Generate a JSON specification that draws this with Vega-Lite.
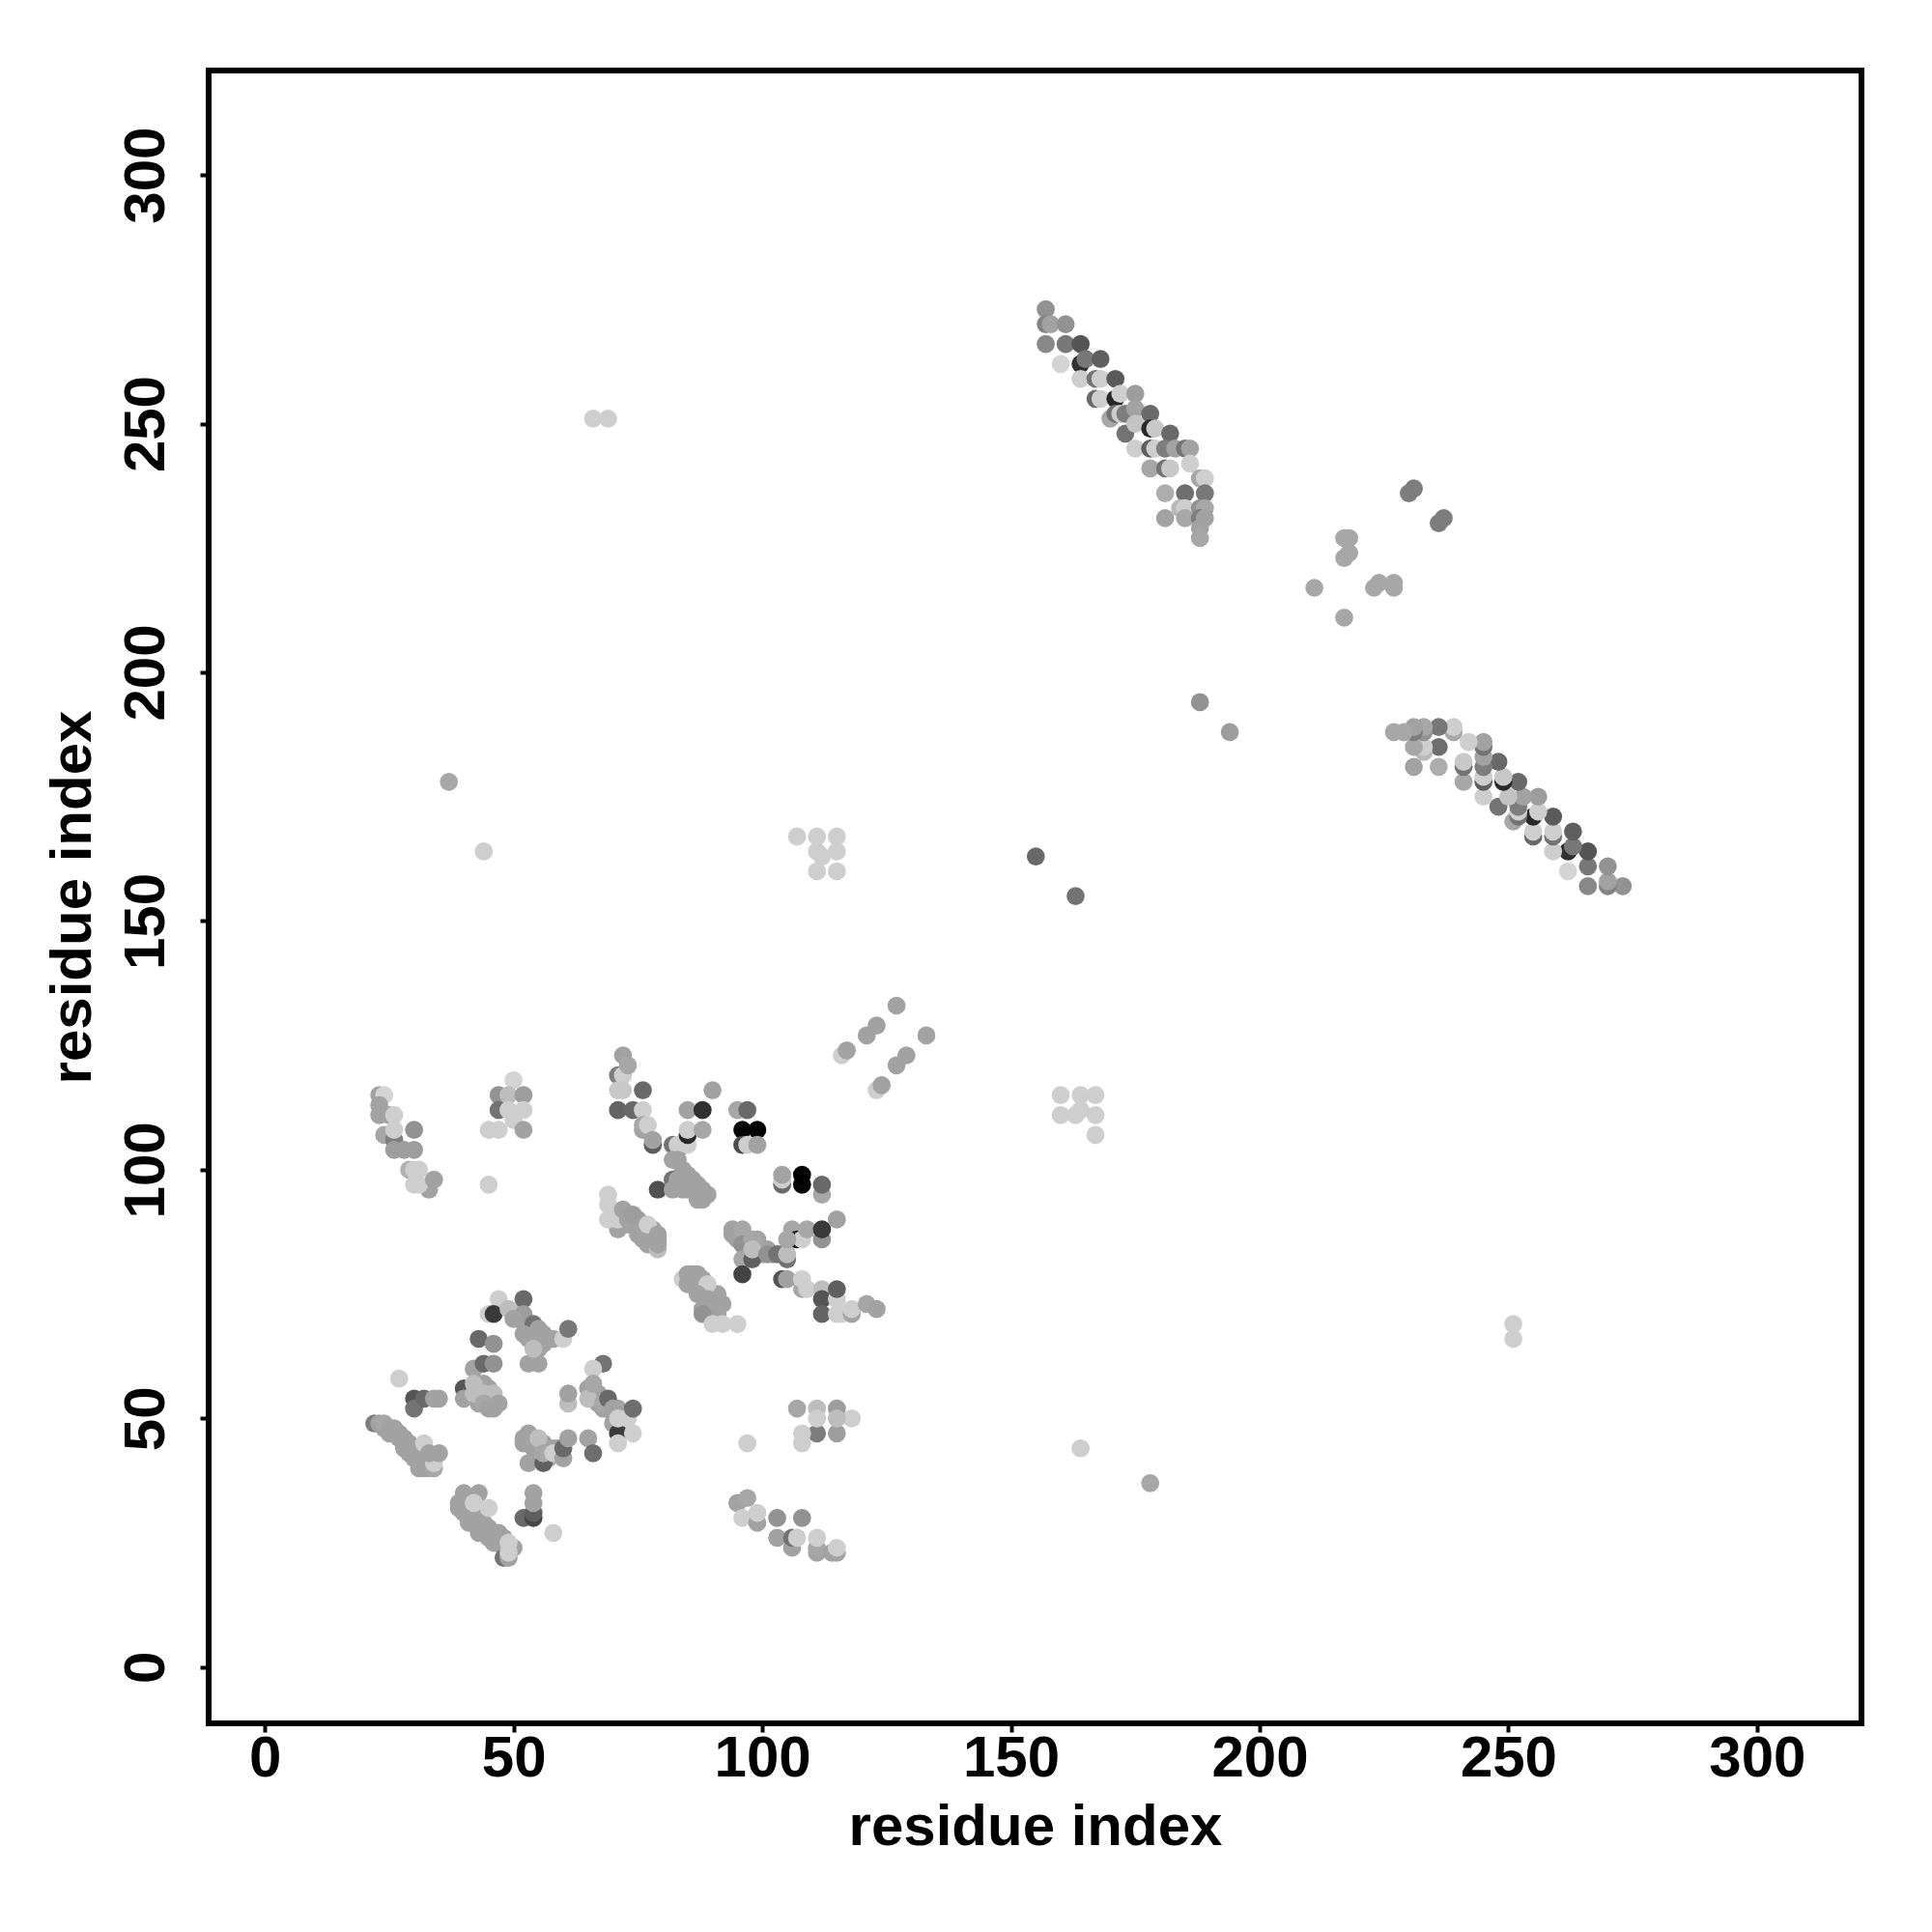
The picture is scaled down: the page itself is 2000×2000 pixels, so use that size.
{"$schema":"https://vega.github.io/schema/vega-lite/v6.json","width":1711,"height":1711,"autosize":{"type":"none"},"padding":{"left":216,"top":73,"right":73,"bottom":216},"background":"white","config":{"view":{"stroke":"black","strokeWidth":6}},"data":{"values":[
{"i":39,"j":33,"score":165},{"i":39,"j":32,"score":165},{"i":41,"j":33,"score":165},{"i":41,"j":31,"score":165},{"i":42,"j":31,"score":165},{"i":42,"j":29,"score":165},{"i":43,"j":30,"score":165},{"i":44,"j":28,"score":165},{"i":45,"j":28,"score":165},{"i":46,"j":25,"score":165},{"i":47,"j":27,"score":165},{"i":47,"j":26,"score":165},{"i":48,"j":24,"score":165},{"i":48,"j":26,"score":165},{"i":49,"j":24,"score":165},{"i":50,"j":24,"score":165},
{"i":24,"j":48,"score":165},{"i":26,"j":48,"score":165},{"i":25,"j":47,"score":165},{"i":28,"j":46,"score":165},{"i":29,"j":45,"score":165},{"i":29,"j":43,"score":165},{"i":30,"j":44,"score":165},{"i":31,"j":42,"score":165},{"i":32,"j":42,"score":165},{"i":32,"j":41,"score":165},{"i":33,"j":41,"score":165},{"i":33,"j":42,"score":165},
{"i":70,"j":91,"score":165},{"i":72,"j":90,"score":165},{"i":73,"j":89,"score":165},{"i":74,"j":89,"score":165},{"i":75,"j":89,"score":165},{"i":75,"j":90,"score":165},{"i":76,"j":88,"score":165},{"i":77,"j":87,"score":165},{"i":77,"j":85,"score":165},{"i":78,"j":86,"score":165},{"i":78,"j":88,"score":165},{"i":79,"j":86,"score":165},
{"i":86,"j":78,"score":165},{"i":86,"j":79,"score":165},{"i":87,"j":77,"score":165},{"i":88,"j":78,"score":165},{"i":88,"j":76,"score":165},{"i":89,"j":76,"score":165},{"i":89,"j":75,"score":165},{"i":90,"j":75,"score":165},{"i":90,"j":73,"score":165},{"i":91,"j":75,"score":165},{"i":92,"j":73,"score":165},{"i":91,"j":71,"score":165},{"i":88,"j":72,"score":165},
{"i":84,"j":100,"score":165},{"i":84,"j":98,"score":165},{"i":84,"j":96,"score":165},{"i":86,"j":98,"score":165},{"i":86,"j":96,"score":165},{"i":87,"j":95,"score":165},{"i":88,"j":96,"score":165},{"i":89,"j":95,"score":165},{"i":88,"j":94,"score":165},
{"i":95,"j":86,"score":165},{"i":96,"j":87,"score":165},{"i":97,"j":85,"score":165},{"i":97,"j":84,"score":165},{"i":99,"j":84,"score":165},{"i":100,"j":83,"score":165},{"i":101,"j":84,"score":165},{"i":102,"j":83,"score":165},{"i":104,"j":83,"score":165},{"i":99,"j":86,"score":165},{"i":100,"j":84,"score":165},
{"i":55,"j":44,"score":165},{"i":56,"j":45,"score":165},{"i":54,"j":46,"score":165},{"i":53,"j":45,"score":165},{"i":58,"j":44,"score":165},{"i":57,"j":44,"score":165},{"i":57,"j":42,"score":165},{"i":59,"j":44,"score":165},
{"i":43,"j":55,"score":165},{"i":43,"j":57,"score":165},{"i":43,"j":53,"score":165},{"i":45,"j":56,"score":165},{"i":45,"j":54,"score":165},{"i":46,"j":53,"score":165},{"i":46,"j":52,"score":165},{"i":44,"j":57,"score":165},
{"i":50,"j":71,"score":165},{"i":51,"j":70,"score":165},{"i":53,"j":68,"score":165},{"i":54,"j":67,"score":165},{"i":53,"j":66,"score":165},{"i":54,"j":65,"score":165},{"i":55,"j":64,"score":165},{"i":56,"j":65,"score":165},{"i":56,"j":67,"score":165},{"i":58,"j":66,"score":165},
{"i":66,"j":54,"score":165},{"i":67,"j":53,"score":165},{"i":67,"j":55,"score":165},{"i":68,"j":52,"score":165},{"i":70,"j":51,"score":165},{"i":71,"j":52,"score":165},{"i":72,"j":49,"score":165},{"i":72,"j":51,"score":165},
{"i":157,"j":273,"score":150},{"i":157,"j":270,"score":135},{"i":158,"j":270,"score":165},{"i":161,"j":270,"score":150},{"i":157,"j":266,"score":140},{"i":161,"j":266,"score":125},{"i":164,"j":266,"score":90},{"i":160,"j":262,"score":210},{"i":164,"j":262,"score":50},{"i":165,"j":263,"score":125},{"i":168,"j":263,"score":100},{"i":164,"j":259,"score":205},{"i":167,"j":259,"score":120},{"i":168,"j":259,"score":205},{"i":171,"j":259,"score":95},{"i":167,"j":255,"score":110},{"i":168,"j":255,"score":205},{"i":171,"j":255,"score":40},{"i":172,"j":256,"score":205},{"i":175,"j":256,"score":160},{"i":170,"j":251,"score":170},{"i":171,"j":252,"score":120},{"i":172,"j":252,"score":205},{"i":173,"j":252,"score":130},{"i":175,"j":253,"score":165},{"i":178,"j":252,"score":110},{"i":173,"j":248,"score":120},{"i":175,"j":250,"score":195},{"i":178,"j":249,"score":40},{"i":179,"j":249,"score":200},{"i":175,"j":245,"score":205},{"i":182,"j":248,"score":110},{"i":178,"j":245,"score":100},{"i":179,"j":245,"score":205},{"i":181,"j":245,"score":130},{"i":183,"j":245,"score":165},{"i":185,"j":245,"score":120},{"i":186,"j":245,"score":165},{"i":178,"j":241,"score":170},{"i":181,"j":241,"score":120},{"i":182,"j":241,"score":200},{"i":186,"j":242,"score":205},{"i":181,"j":236,"score":175},{"i":188,"j":239,"score":170},{"i":189,"j":239,"score":205},{"i":189,"j":236,"score":125},{"i":185,"j":236,"score":115},{"i":184,"j":233,"score":185},{"i":185,"j":233,"score":205},{"i":188,"j":233,"score":150},{"i":189,"j":233,"score":170},{"i":181,"j":231,"score":165},{"i":185,"j":231,"score":170},{"i":188,"j":231,"score":130},{"i":189,"j":231,"score":165},{"i":188,"j":229,"score":165},{"i":188,"j":227,"score":170},
{"i":273,"j":157,"score":150},{"i":270,"j":157,"score":135},{"i":270,"j":158,"score":165},{"i":270,"j":161,"score":150},{"i":266,"j":157,"score":140},{"i":266,"j":161,"score":125},{"i":266,"j":164,"score":90},{"i":262,"j":160,"score":210},{"i":262,"j":164,"score":50},{"i":263,"j":165,"score":125},{"i":263,"j":168,"score":100},{"i":259,"j":164,"score":205},{"i":259,"j":167,"score":120},{"i":259,"j":168,"score":205},{"i":259,"j":171,"score":95},{"i":255,"j":167,"score":110},{"i":255,"j":168,"score":205},{"i":255,"j":171,"score":40},{"i":256,"j":172,"score":205},{"i":256,"j":175,"score":160},{"i":251,"j":170,"score":170},{"i":252,"j":171,"score":120},{"i":252,"j":172,"score":205},{"i":252,"j":173,"score":130},{"i":253,"j":175,"score":165},{"i":252,"j":178,"score":110},{"i":248,"j":173,"score":120},{"i":250,"j":175,"score":195},{"i":249,"j":178,"score":40},{"i":249,"j":179,"score":200},{"i":245,"j":175,"score":205},{"i":248,"j":182,"score":110},{"i":245,"j":178,"score":100},{"i":245,"j":179,"score":205},{"i":245,"j":181,"score":130},{"i":245,"j":183,"score":165},{"i":245,"j":185,"score":120},{"i":245,"j":186,"score":165},{"i":241,"j":178,"score":170},{"i":241,"j":181,"score":120},{"i":241,"j":182,"score":200},{"i":242,"j":186,"score":205},{"i":236,"j":181,"score":175},{"i":239,"j":188,"score":170},{"i":239,"j":189,"score":205},{"i":236,"j":189,"score":125},{"i":236,"j":185,"score":115},{"i":233,"j":184,"score":185},{"i":233,"j":185,"score":205},{"i":233,"j":188,"score":150},{"i":233,"j":189,"score":170},{"i":231,"j":181,"score":165},{"i":231,"j":185,"score":170},{"i":231,"j":188,"score":130},{"i":231,"j":189,"score":165},{"i":227,"j":188,"score":170},{"i":229,"j":188,"score":170},
{"i":23,"j":115,"score":165},{"i":24,"j":115,"score":210},{"i":23,"j":113,"score":165},{"i":23,"j":111,"score":165},{"i":25,"j":111,"score":165},{"i":26,"j":111,"score":205},{"i":24,"j":107,"score":170},{"i":26,"j":106,"score":130},{"i":26,"j":108,"score":205},{"i":30,"j":108,"score":150},{"i":26,"j":104,"score":160},{"i":28,"j":104,"score":160},{"i":30,"j":104,"score":160},{"i":29,"j":100,"score":180},{"i":30,"j":100,"score":205},{"i":31,"j":100,"score":205},{"i":33,"j":96,"score":165},{"i":30,"j":97,"score":205},{"i":31,"j":97,"score":205},{"i":34,"j":98,"score":165},
{"i":50,"j":118,"score":210},{"i":47,"j":115,"score":150},{"i":49,"j":115,"score":190},{"i":52,"j":115,"score":160},{"i":47,"j":112,"score":120},{"i":49,"j":112,"score":205},{"i":50,"j":110,"score":205},{"i":52,"j":112,"score":205},{"i":45,"j":108,"score":205},{"i":47,"j":108,"score":205},{"i":52,"j":108,"score":165},{"i":45,"j":97,"score":205},
{"i":71,"j":119,"score":130},{"i":72,"j":119,"score":205},{"i":72,"j":123,"score":165},{"i":73,"j":121,"score":170},{"i":71,"j":116,"score":200},{"i":72,"j":116,"score":200},{"i":76,"j":116,"score":110},{"i":71,"j":112,"score":105},{"i":74,"j":112,"score":110},{"i":76,"j":112,"score":205},{"i":76,"j":108,"score":165},{"i":76,"j":109,"score":170},{"i":77,"j":109,"score":205},{"i":78,"j":105,"score":95},{"i":78,"j":106,"score":165},
{"i":82,"j":105,"score":120},{"i":83,"j":104,"score":130},{"i":83,"j":105,"score":205},{"i":85,"j":105,"score":205},{"i":82,"j":102,"score":165},{"i":83,"j":102,"score":165},{"i":82,"j":98,"score":120},{"i":83,"j":98,"score":165},{"i":85,"j":99,"score":165},{"i":79,"j":96,"score":85},{"i":82,"j":96,"score":165},{"i":85,"j":96,"score":165},{"i":87,"j":97,"score":165},{"i":87,"j":94,"score":165},{"i":88,"j":95,"score":165},
{"i":85,"j":112,"score":165},{"i":88,"j":112,"score":50},{"i":90,"j":116,"score":165},{"i":85,"j":107,"score":40},{"i":85,"j":108,"score":205},{"i":88,"j":108,"score":170},
{"i":95,"j":112,"score":170},{"i":97,"j":112,"score":110},{"i":96,"j":108,"score":5},{"i":99,"j":108,"score":0},{"i":96,"j":105,"score":80},{"i":97,"j":105,"score":205},{"i":99,"j":105,"score":165},
{"i":104,"j":97,"score":110},{"i":104,"j":98,"score":205},{"i":104,"j":99,"score":165},{"i":108,"j":97,"score":5},{"i":108,"j":99,"score":0},{"i":112,"j":95,"score":170},{"i":112,"j":97,"score":110},{"i":115,"j":90,"score":165},{"i":106,"j":88,"score":170},{"i":107,"j":86,"score":20},{"i":108,"j":86,"score":205},{"i":109,"j":88,"score":170},{"i":112,"j":86,"score":150},{"i":112,"j":88,"score":60},
{"i":69,"j":95,"score":205},{"i":69,"j":93,"score":205},{"i":71,"j":88,"score":165},{"i":69,"j":90,"score":205},{"i":71,"j":90,"score":205},{"i":72,"j":92,"score":165},{"i":73,"j":90,"score":165},{"i":74,"j":91,"score":160},{"i":75,"j":87,"score":165},{"i":76,"j":86,"score":165},{"i":77,"j":89,"score":205},{"i":79,"j":84,"score":190},{"i":79,"j":85,"score":165},{"i":79,"j":87,"score":165},
{"i":94,"j":88,"score":165},{"i":94,"j":87,"score":165},{"i":96,"j":88,"score":170},{"i":96,"j":85,"score":150},{"i":98,"j":86,"score":170},{"i":96,"j":82,"score":170},{"i":98,"j":82,"score":100},{"i":98,"j":84,"score":190},{"i":101,"j":83,"score":150},{"i":103,"j":83,"score":120},{"i":105,"j":82,"score":120},{"i":105,"j":83,"score":190},{"i":105,"j":86,"score":170},{"i":96,"j":79,"score":70},
{"i":104,"j":78,"score":90},{"i":105,"j":78,"score":165},{"i":108,"j":76,"score":170},{"i":108,"j":78,"score":205},{"i":109,"j":76,"score":205},{"i":112,"j":76,"score":190},{"i":112,"j":74,"score":90},{"i":112,"j":71,"score":105},{"i":115,"j":74,"score":205},{"i":115,"j":76,"score":100},{"i":115,"j":71,"score":205},{"i":116,"j":71,"score":205},{"i":118,"j":71,"score":165},{"i":118,"j":72,"score":205},{"i":121,"j":73,"score":170},{"i":123,"j":72,"score":165},
{"i":84,"j":78,"score":205},{"i":85,"j":79,"score":165},{"i":87,"j":79,"score":165},{"i":85,"j":77,"score":165},{"i":89,"j":77,"score":205},{"i":87,"j":75,"score":165},{"i":89,"j":74,"score":165},{"i":91,"j":73,"score":165},{"i":88,"j":71,"score":150},{"i":90,"j":69,"score":205},{"i":92,"j":69,"score":205},{"i":95,"j":69,"score":205},
{"i":47,"j":74,"score":205},{"i":52,"j":74,"score":110},{"i":45,"j":71,"score":205},{"i":46,"j":71,"score":60},{"i":49,"j":72,"score":190},{"i":52,"j":71,"score":160},{"i":50,"j":70,"score":165},{"i":54,"j":69,"score":120},{"i":55,"j":68,"score":165},{"i":52,"j":67,"score":165},{"i":57,"j":66,"score":165},{"i":60,"j":66,"score":205},{"i":61,"j":68,"score":125},{"i":53,"j":61,"score":165},{"i":55,"j":61,"score":165},{"i":54,"j":64,"score":190},
{"i":43,"j":66,"score":110},{"i":46,"j":65,"score":150},{"i":68,"j":61,"score":120},{"i":66,"j":60,"score":205},{"i":42,"j":60,"score":165},{"i":44,"j":61,"score":110},{"i":46,"j":61,"score":150},{"i":40,"j":56,"score":90},{"i":40,"j":54,"score":165},{"i":42,"j":57,"score":190},{"i":42,"j":55,"score":190},{"i":44,"j":55,"score":190},{"i":46,"j":55,"score":190},{"i":44,"j":53,"score":170},{"i":45,"j":52,"score":165},{"i":47,"j":53,"score":165},
{"i":27,"j":58,"score":205},{"i":30,"j":54,"score":90},{"i":30,"j":52,"score":120},{"i":32,"j":54,"score":110},{"i":34,"j":54,"score":165},{"i":35,"j":54,"score":165},
{"i":61,"j":53,"score":190},{"i":61,"j":55,"score":165},{"i":65,"j":56,"score":165},{"i":65,"j":54,"score":190},{"i":66,"j":57,"score":170},{"i":68,"j":53,"score":170},{"i":69,"j":54,"score":110},{"i":70,"j":52,"score":165},{"i":70,"j":49,"score":165},{"i":71,"j":47,"score":60},{"i":71,"j":45,"score":205},{"i":71,"j":50,"score":205},{"i":73,"j":50,"score":205},{"i":74,"j":47,"score":205},{"i":74,"j":52,"score":115},
{"i":22,"j":49,"score":130},{"i":23,"j":49,"score":165},{"i":24,"j":49,"score":170},{"i":25,"j":48,"score":165},{"i":26,"j":47,"score":165},{"i":27,"j":47,"score":165},{"i":27,"j":46,"score":165},{"i":28,"j":45,"score":165},{"i":28,"j":44,"score":165},{"i":29,"j":44,"score":165},{"i":30,"j":43,"score":165},{"i":30,"j":42,"score":165},{"i":31,"j":43,"score":165},{"i":31,"j":41,"score":165},{"i":31,"j":40,"score":165},{"i":32,"j":40,"score":165},{"i":33,"j":40,"score":165},{"i":34,"j":40,"score":170},{"i":32,"j":45,"score":205},{"i":34,"j":41,"score":205},{"i":33,"j":43,"score":165},{"i":35,"j":43,"score":165},
{"i":52,"j":46,"score":165},{"i":52,"j":45,"score":165},{"i":53,"j":47,"score":165},{"i":54,"j":44,"score":165},{"i":55,"j":46,"score":190},{"i":53,"j":41,"score":165},{"i":56,"j":41,"score":100},{"i":56,"j":43,"score":170},{"i":58,"j":43,"score":205},{"i":60,"j":42,"score":165},{"i":60,"j":44,"score":110},{"i":61,"j":46,"score":165},{"i":65,"j":46,"score":165},{"i":66,"j":43,"score":115},
{"i":40,"j":35,"score":165},{"i":40,"j":32,"score":165},{"i":40,"j":31,"score":165},{"i":43,"j":35,"score":165},{"i":41,"j":29,"score":165},{"i":42,"j":33,"score":205},{"i":43,"j":27,"score":165},{"i":44,"j":29,"score":165},{"i":45,"j":32,"score":205},{"i":45,"j":26,"score":165},{"i":46,"j":27,"score":165},{"i":47,"j":25,"score":165},{"i":48,"j":22,"score":120},{"i":49,"j":22,"score":165},{"i":49,"j":23,"score":205},{"i":49,"j":25,"score":205},
{"i":52,"j":30,"score":110},{"i":54,"j":30,"score":75},{"i":54,"j":31,"score":100},{"i":54,"j":33,"score":165},{"i":54,"j":35,"score":165},{"i":58,"j":27,"score":205},
{"i":95,"j":33,"score":165},{"i":97,"j":34,"score":170},{"i":96,"j":30,"score":205},{"i":99,"j":29,"score":165},{"i":99,"j":31,"score":205},{"i":103,"j":30,"score":150},{"i":103,"j":26,"score":165},{"i":108,"j":30,"score":150},{"i":106,"j":24,"score":165},{"i":106,"j":26,"score":120},{"i":107,"j":26,"score":205},{"i":111,"j":23,"score":165},{"i":111,"j":24,"score":170},{"i":111,"j":26,"score":205},{"i":114,"j":23,"score":165},{"i":115,"j":23,"score":165},{"i":115,"j":24,"score":205},
{"i":107,"j":52,"score":170},{"i":111,"j":52,"score":190},{"i":115,"j":52,"score":160},{"i":118,"j":50,"score":205},{"i":111,"j":47,"score":130},{"i":115,"j":47,"score":160},{"i":111,"j":50,"score":205},{"i":115,"j":50,"score":190},{"i":108,"j":47,"score":205},{"i":108,"j":45,"score":205},{"i":97,"j":45,"score":205},
{"i":116,"j":123,"score":205},{"i":117,"j":124,"score":165},{"i":121,"j":127,"score":165},{"i":123,"j":129,"score":165},{"i":127,"j":133,"score":165},{"i":133,"j":127,"score":165},{"i":129,"j":123,"score":165},{"i":127,"j":121,"score":165},{"i":123,"j":116,"score":205},{"i":124,"j":117,"score":165},
{"i":66,"j":251,"score":205},{"i":69,"j":251,"score":205},{"i":37,"j":178,"score":170},{"i":44,"j":164,"score":205},{"i":107,"j":167,"score":205},{"i":111,"j":167,"score":205},{"i":115,"j":167,"score":205},{"i":111,"j":164,"score":205},{"i":112,"j":163,"score":205},{"i":115,"j":164,"score":205},{"i":111,"j":160,"score":205},{"i":115,"j":160,"score":205},
{"i":160,"j":115,"score":205},{"i":164,"j":115,"score":205},{"i":167,"j":115,"score":205},{"i":160,"j":111,"score":205},{"i":163,"j":111,"score":205},{"i":164,"j":112,"score":205},{"i":167,"j":111,"score":205},{"i":167,"j":107,"score":205},
{"i":155,"j":163,"score":110},{"i":163,"j":155,"score":120},{"i":188,"j":194,"score":150},{"i":194,"j":188,"score":160},{"i":211,"j":217,"score":170},{"i":217,"j":211,"score":170},{"i":217,"j":227,"score":170},{"i":218,"j":227,"score":170},{"i":217,"j":223,"score":170},{"i":218,"j":224,"score":170},{"i":223,"j":217,"score":170},{"i":224,"j":218,"score":170},{"i":227,"j":218,"score":170},{"i":227,"j":217,"score":170},{"i":230,"j":236,"score":130},{"i":231,"j":237,"score":130},{"i":236,"j":230,"score":130},{"i":237,"j":231,"score":130},{"i":251,"j":69,"score":205},{"i":251,"j":66,"score":205},{"i":164,"j":44,"score":205},{"i":178,"j":37,"score":170}
]},"mark":{"type":"point","filled":true,"shape":"circle","size":350,"opacity":1,"strokeWidth":0},"encoding":{"x":{"field":"i","type":"quantitative","scale":{"domain":[-11.3,321],"nice":false,"zero":false},"axis":{"title":"residue index","values":[0,50,100,150,200,250,300],"grid":false,"domain":false,"tickColor":"black","tickWidth":4,"tickSize":9,"labelFont":"Liberation Sans","labelFontWeight":"bold","labelFontSize":60,"labelColor":"black","labelPadding":-2,"labelBaseline":"top","labelFlush":false,"labelOverlap":false,"titleFont":"Liberation Sans","titleFontWeight":"bold","titleFontSize":60,"titleColor":"black","titlePadding":12}},"y":{"field":"j","type":"quantitative","scale":{"domain":[-11.3,321],"nice":false,"zero":false},"axis":{"title":"residue index","values":[0,50,100,150,200,250,300],"grid":false,"domain":false,"tickColor":"black","tickWidth":4,"tickSize":9,"labelFont":"Liberation Sans","labelFontWeight":"bold","labelFontSize":60,"labelColor":"black","labelAngle":-90,"labelAlign":"center","labelBaseline":"bottom","labelPadding":25,"labelFlush":false,"labelOverlap":false,"titleFont":"Liberation Sans","titleFontWeight":"bold","titleFontSize":60,"titleColor":"black","titlePadding":15}},"color":{"field":"score","type":"quantitative","scale":{"domain":[0,212],"range":["#000000","#d6d6d6"]},"legend":null}}}
